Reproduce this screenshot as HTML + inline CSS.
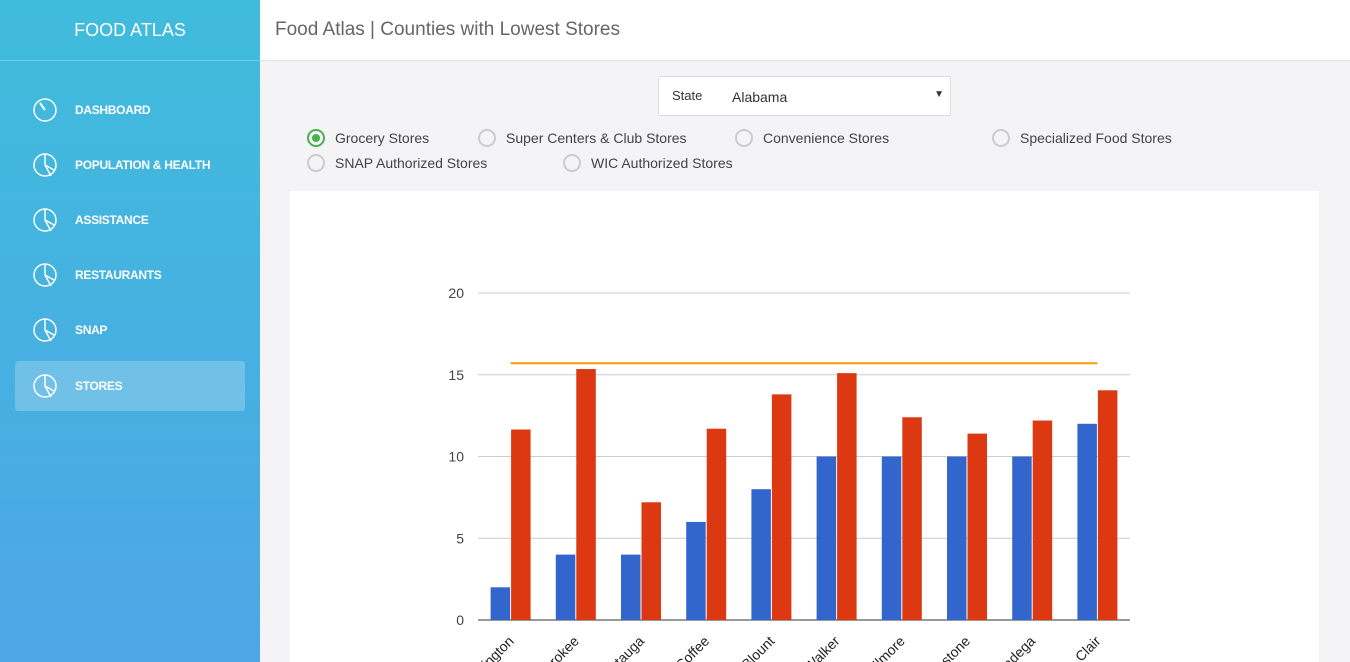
<!DOCTYPE html>
<html><head><meta charset="utf-8"><style>
*{box-sizing:border-box;margin:0;padding:0}
body{width:1350px;height:662px;overflow:hidden;font-family:"Liberation Sans",sans-serif;background:#f4f4f6;position:relative}
#side{position:absolute;left:0;top:0;width:260px;height:662px;background:linear-gradient(#3fbcdc,#4ea6e6)}
#brand{height:61px;line-height:60px;text-align:center;color:#fff;font-size:18px;border-bottom:1px solid rgba(255,255,255,.25)}
.nav{position:absolute;left:15px;width:230px;height:50px;color:#fff;font-size:12px;font-weight:bold;letter-spacing:-0.3px}
.nav span{position:absolute;left:60px;top:18px}
.nav svg{position:absolute;left:17px;top:12px}
.nav.active{background:rgba(255,255,255,.22);border-radius:3px}
#top{position:absolute;left:260px;top:0;width:1090px;height:61px;background:#fff;border-bottom:1px solid #e2e2e2}
#top h1{font-weight:normal;font-size:19px;color:#666;position:absolute;left:15px;top:19px}
#sel{position:absolute;left:658px;top:76px;width:293px;height:40px;background:#fff;border:1px solid #ddd;border-radius:2px;font-size:14px;color:#333}
.radio{position:absolute;font-size:14px;color:#444}
.radio i{position:absolute;left:-28px;top:-1px;width:18px;height:18px;border:2px solid #ccc;border-radius:50%}
.radio i.on{border-color:#4caf50}
.radio i.on:after{content:"";position:absolute;left:3px;top:3px;width:8px;height:8px;border-radius:50%;background:#4caf50}
#card{position:absolute;left:290px;top:191px;width:1029px;height:471px;background:#fff}
</style></head><body>
<div id="side">
<div id="brand">FOOD ATLAS</div>
<div class="nav" style="top:85px"><svg width="26" height="26"><circle cx="13" cy="13" r="11" fill="none" stroke="#fff" stroke-width="1.5"/><line x1="13" y1="13" x2="8" y2="6" stroke="#fff" stroke-width="2"/></svg><span>DASHBOARD</span></div>
<div class="nav" style="top:140px"><svg width="26" height="26"><circle cx="13" cy="13" r="11" fill="none" stroke="#fff" stroke-width="1.5"/><path d="M13 2V13L22 18M13 13L19 24" fill="none" stroke="#fff" stroke-width="1.5"/></svg><span>POPULATION &amp; HEALTH</span></div>
<div class="nav" style="top:195px"><svg width="26" height="26"><circle cx="13" cy="13" r="11" fill="none" stroke="#fff" stroke-width="1.5"/><path d="M13 2V13L22 18M13 13L19 24" fill="none" stroke="#fff" stroke-width="1.5"/></svg><span>ASSISTANCE</span></div>
<div class="nav" style="top:250px"><svg width="26" height="26"><circle cx="13" cy="13" r="11" fill="none" stroke="#fff" stroke-width="1.5"/><path d="M13 2V13L22 18M13 13L19 24" fill="none" stroke="#fff" stroke-width="1.5"/></svg><span>RESTAURANTS</span></div>
<div class="nav" style="top:305px"><svg width="26" height="26"><circle cx="13" cy="13" r="11" fill="none" stroke="#fff" stroke-width="1.5"/><path d="M13 2V13L22 18M13 13L19 24" fill="none" stroke="#fff" stroke-width="1.5"/></svg><span>SNAP</span></div>
<div class="nav active" style="top:361px"><svg width="26" height="26"><circle cx="13" cy="13" r="11" fill="none" stroke="#fff" stroke-width="1.5"/><path d="M13 2V13L22 18M13 13L19 24" fill="none" stroke="#fff" stroke-width="1.5"/></svg><span>STORES</span></div>
</div>
<div id="top"><h1>Food Atlas | Counties with Lowest Stores</h1></div>
<div id="sel"><span style="position:absolute;left:13px;top:11px;font-size:13px">State</span><span style="position:absolute;left:73px;top:12px">Alabama</span><span style="position:absolute;right:6px;top:12px;font-size:10px">▼</span></div>
<div class="radio" style="left:335px;top:130px"><i class="on"></i>Grocery Stores</div>
<div class="radio" style="left:506px;top:130px"><i></i>Super Centers &amp; Club Stores</div>
<div class="radio" style="left:763px;top:130px"><i></i>Convenience Stores</div>
<div class="radio" style="left:1020px;top:130px"><i></i>Specialized Food Stores</div>
<div class="radio" style="left:335px;top:155px"><i></i>SNAP Authorized Stores</div>
<div class="radio" style="left:591px;top:155px"><i></i>WIC Authorized Stores</div>
<div id="card"></div>
<svg id="chart" width="1350" height="662" style="position:absolute;left:0;top:0"></svg>
<script>
const categories=["Washington","Cherokee","Autauga","Coffee","Blount","Walker","Elmore","Limestone","Talladega","St. Clair"];
const blueValues=[2,4,4,6,8,10,10,10,10,12];
const redValues=[11.65,15.35,7.2,11.7,13.8,15.1,12.4,11.4,12.2,14.05];
const lineValue=[15.7];
const yTicks=[0,5,10,15,20];
const NS="http://www.w3.org/2000/svg",svg=document.getElementById('chart');
const x0=478,x1=1130,y0=620,y1=293,ymax=20;
const y=v=>y0-(v/ymax)*(y0-y1);
const bw=(x1-x0)/categories.length;
const cx=i=>x0+bw*(i+0.5);
function mk(t,a){const e=document.createElementNS(NS,t);for(const k in a)e.setAttribute(k,a[k]);svg.appendChild(e);return e;}
yTicks.forEach(t=>{
 const g=mk('line',{x1:x0,x2:x1,y1:y(t),y2:y(t),stroke:t===0?'#333':'#ccc','stroke-width':1});
 
 
 const l=mk('text',{x:x0-14,y:y(t)+5,'text-anchor':'end','font-size':14,fill:'#444','font-family':'Liberation Sans'});
 l.textContent=t;
 
 
});
categories.forEach((c,i)=>{
 const b=mk('rect',{x:cx(i)-20,y:y(blueValues[i]),width:19.5,height:y0-y(blueValues[i]),fill:'#3366cc'});
 
 
 const r=mk('rect',{x:cx(i)+0.5,y:y(redValues[i]),width:19.5,height:y0-y(redValues[i]),fill:'#dc3912'});
 
 
 const t=mk('text',{x:cx(i)+4,y:y0+22,'text-anchor':'end','font-size':14,fill:'#222','font-family':'Liberation Sans',transform:`rotate(-45 ${cx(i)+4} ${y0+22})`});
 t.textContent=c;
 
 
});
const ln=mk('line',{x1:cx(0),x2:cx(categories.length-1),y1:y(lineValue[0]),y2:y(lineValue[0]),stroke:'#ff9900','stroke-width':2});


mk('rect',{x:0,y:0,width:260,height:662,fill:'none'});
</script>
</body></html>
